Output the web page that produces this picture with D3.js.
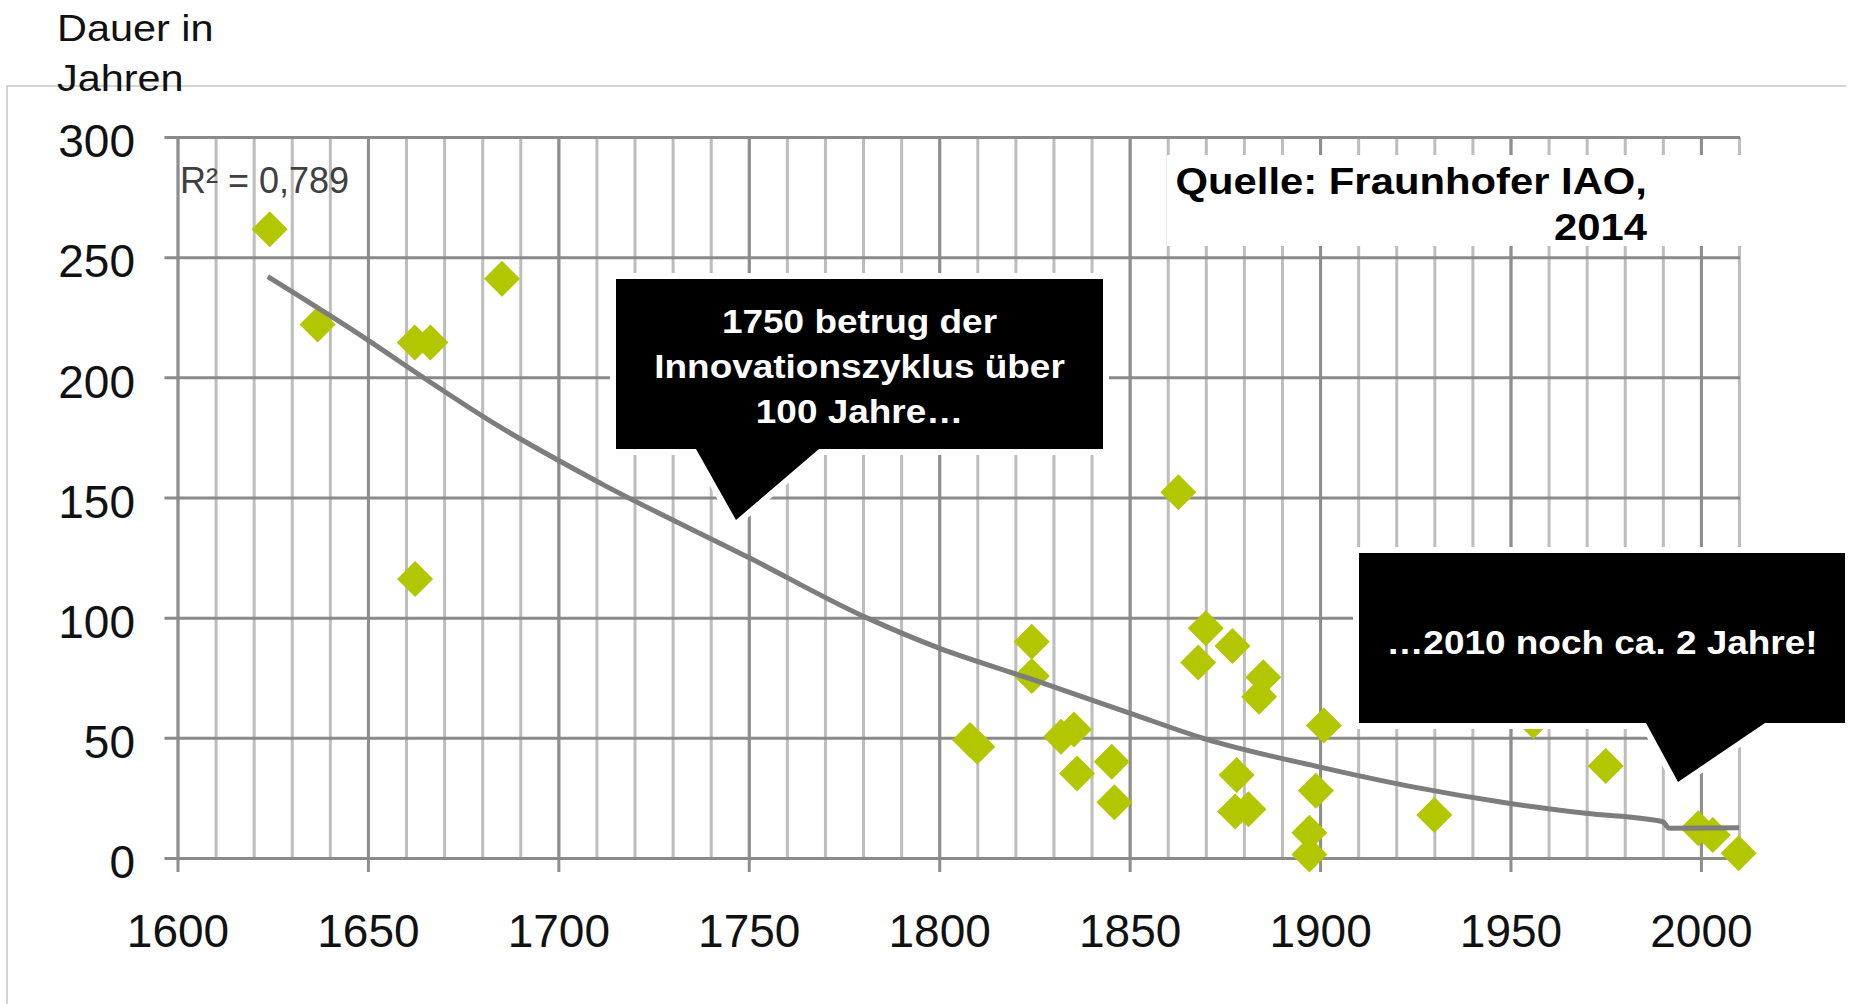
<!DOCTYPE html>
<html>
<head>
<meta charset="utf-8">
<script src="https://cdn.jsdelivr.net/npm/d3@7"></script>
<style>
  html, body { margin: 0; padding: 0; background: #fff; }
  svg { display: block; font-family: "Liberation Sans", Arial, Helvetica, sans-serif; }
</style>
</head>
<body>
<div id="chart"></div>
<script>
// Innovationen: Jahr und Dauer des Innovationszyklus (in Jahren)
var years     = [1624.2, 1636.8, 1662.3, 1666.4, 1685.2, 1662.4,
                 1808.1, 1810.0, 1824.3, 1824.3, 1832.0, 1835.4, 1836.2, 1845.3, 1846.0,
                 1862.8, 1870.0, 1877.0, 1868.0, 1885.1, 1884.0, 1901.0,
                 1878.1, 1877.7, 1881.2, 1898.9, 1897.2, 1897.2,
                 1930.0, 1956.0, 1975.0, 1999.3, 2003.1, 2009.9];
var durations = [261.6, 222.0, 214.5, 214.5, 241.0, 116.1,
                 49.1, 46.3, 90.0, 75.7, 50.5, 53.5, 35.2, 40.1, 23.2,
                 152.2, 95.6, 88.2, 81.3, 75.2, 67.1, 55.1,
                 34.5, 19.3, 20.3, 28.0, 10.5, 1.5,
                 17.9, 57.0, 38.3, 12.4, 9.6, 2.0];

// Trendlinie
var trendYears  = [1623.7, 1650, 1664, 1684, 1711, 1750, 1781.3, 1800, 1823.5, 1850, 1870, 1900, 1924, 1949.5, 1969.7, 1990, 1991.6, 2010];
var trendValues = [241.9, 215.5, 200.5, 180, 156, 125, 99.7, 87.3, 74.8, 60.3, 49.5, 37.8, 29.7, 22.8, 18.6, 15.1, 12.4, 12.6];

// Achsen
var yTicks = [0, 50, 100, 150, 200, 250, 300];
var xTicks = [1600, 1650, 1700, 1750, 1800, 1850, 1900, 1950, 2000];
var minorYears = d3.range(1600, 2011, 10);

// Texte
var yTitle = ["Dauer in", "Jahren"];
var rSquared = "R² = 0,789";
var sourceLines = ["Quelle: Fraunhofer IAO,", "2014"];
var callout1Lines = ["1750 betrug der", "Innovationszyklus über", "100 Jahre…"];
var callout2Lines = ["…2010 noch ca. 2 Jahre!"];

/*
 * InnovationChart - Object constructor function
 * @param _parentElement -- the HTML element in which to draw the chart
 */
InnovationChart = function(_parentElement){
  this.parentElement = _parentElement;
  this.initVis();
}

/*
 * Initialize visualization (svg, scales, grid and axes)
 */
InnovationChart.prototype.initVis = function(){
  var vis = this;

  vis.width = 1856;
  vis.height = 1004;
  vis.plot = { left: 177.5, right: 1739, top: 137, bottom: 858 };

  vis.svg = d3.select("#" + vis.parentElement).append("svg")
    .attr("width", vis.width)
    .attr("height", vis.height);

  // Scales
  vis.x = d3.scaleLinear().domain([1600, 2010]).range([vis.plot.left, vis.plot.right]);
  vis.y = d3.scaleLinear().domain([0, 300]).range([vis.plot.bottom, vis.plot.top]);

  // outer frame (top + left only)
  vis.svg.append("path")
    .attr("d", "M7,1004V86H1846")
    .attr("fill", "none")
    .attr("stroke", "#c8c8c8")
    .attr("stroke-width", 1.5);

  // minor vertical grid, every 10 years
  vis.svg.append("g")
    .attr("transform", "translate(0," + vis.plot.bottom + ")")
    .call(d3.axisBottom(vis.x).tickValues(minorYears)
      .tickSize(-(vis.plot.bottom - vis.plot.top)).tickFormat(""))
    .call(g => g.select(".domain").remove())
    .selectAll("line")
      .attr("stroke", "#bdbdbd")
      .attr("stroke-width", 3);

  // major vertical grid + x axis labels (ticks hang 14px below zero line)
  vis.xAxisG = vis.svg.append("g")
    .attr("transform", "translate(0," + (vis.plot.bottom + 14) + ")")
    .call(d3.axisBottom(vis.x).tickValues(xTicks)
      .tickSize(-(vis.plot.bottom + 14 - vis.plot.top)).tickPadding(42)
      .tickFormat(d3.format("d")))
    .call(g => g.select(".domain").remove());
  vis.xAxisG.selectAll("line").attr("stroke", "#8e8e8e").attr("stroke-width", 3);

  // horizontal grid + y axis labels (ticks stick out 13px on the left)
  vis.yAxisG = vis.svg.append("g")
    .attr("transform", "translate(" + (vis.plot.left - 13) + ",0)")
    .call(d3.axisLeft(vis.y).tickValues(yTicks)
      .tickSize(-(vis.plot.right + 1 - vis.plot.left + 13)).tickPadding(29.5))
    .call(g => g.select(".domain").remove());
  vis.yAxisG.selectAll("line").attr("stroke", "#8a8a8a").attr("stroke-width", 3);
  vis.yAxisG.selectAll("text").attr("dy", "0.43em");

  vis.svg.selectAll(".tick text")
    .attr("fill", "#111")
    .style("font-size", "46px")
    .style("font-family", "'Liberation Sans', Arial, sans-serif");

  // y axis title
  vis.svg.append("g")
    .selectAll("text")
    .data(yTitle)
    .enter().append("text")
      .attr("transform", (d, i) => "translate(57," + (41 + i * 50) + ") scale(1.12,1)")
      .attr("fill", "#111")
      .style("font-size", "37px")
      .text(d => d);

  vis.updateVis();
}

/*
 *  The drawing function
 */
InnovationChart.prototype.updateVis = function(){
  var vis = this;

  var points = years.map((yr, i) => ({ year: yr, value: durations[i] }));
  var trend = trendYears.map((yr, i) => ({ year: yr, value: trendValues[i] }));

  // diamonds
  vis.svg.append("g")
    .selectAll("path")
    .data(points)
    .enter().append("path")
      .attr("d", "M0,-18L18,0L0,18L-18,0Z")
      .attr("transform", d => "translate(" + vis.x(d.year) + "," + vis.y(d.value) + ")")
      .attr("fill", "#b3c700");

  // trend line (monotone, so the small step near 1990 doesn't overshoot)
  var line = d3.line()
    .x(d => vis.x(d.year))
    .y(d => vis.y(d.value))
    .curve(d3.curveMonotoneX);

  vis.svg.append("path")
    .datum(trend)
    .attr("d", line)
    .attr("fill", "none")
    .attr("stroke", "#7d7d7d")
    .attr("stroke-width", 5);

  // R²
  vis.svg.append("text")
    .attr("x", 180)
    .attr("y", 193)
    .attr("fill", "#404040")
    .style("font-size", "36px")
    .text(rSquared);

  // source box
  vis.svg.append("rect")
    .attr("x", 1167).attr("y", 155)
    .attr("width", 576).attr("height", 91)
    .attr("fill", "#fff");

  vis.svg.append("g")
    .selectAll("text")
    .data(sourceLines)
    .enter().append("text")
      .attr("transform", (d, i) => "translate(1647," + (194 + i * 46) + ") scale(1.13,1)")
      .attr("text-anchor", "end")
      .attr("fill", "#000")
      .style("font-size", "37px")
      .style("font-weight", "bold")
      .text(d => d);

  // callouts
  vis.drawCallout({ x0: 616, x1: 1103, y0: 279, y1: 449, pl: 696, pr: 819, tx: 736, ty: 520 },
    callout1Lines, 333, 45);
  vis.drawCallout({ x0: 1359, x1: 1845, y0: 553, y1: 723, pl: 1646, pr: 1765, tx: 1678, ty: 782 },
    callout2Lines, 654, 45);
}

//////////////////////////////////////////
/*            HELPER METHODS            */
//////////////////////////////////////////

/*
 * Black speech bubble with white outline
 * @param b -- box corners + pointer base (pl, pr) and tip (tx, ty)
 */
InnovationChart.prototype.drawCallout = function(b, lines, firstBaseline, lineHeight){
  var vis = this;
  var d = "M" + b.x0 + "," + b.y0 + "H" + b.x1 + "V" + b.y1 + "H" + b.pr +
          "L" + b.tx + "," + b.ty + "L" + b.pl + "," + b.y1 + "H" + b.x0 + "Z";

  vis.svg.append("path")
    .attr("d", d)
    .attr("fill", "#000")
    .attr("stroke", "#fff")
    .attr("stroke-width", 12)
    .attr("stroke-linejoin", "miter")
    .style("paint-order", "stroke fill");

  var cx = (b.x0 + b.x1) / 2;
  vis.svg.append("g")
    .selectAll("text")
    .data(lines)
    .enter().append("text")
      .attr("transform", (t, i) => "translate(" + cx + "," + (firstBaseline + i * lineHeight) + ") scale(1.12,1)")
      .attr("text-anchor", "middle")
      .attr("fill", "#fff")
      .style("font-size", "33px")
      .style("font-weight", "bold")
      .text(t => t);
}

var chart = new InnovationChart("chart");
</script>
</body>
</html>
